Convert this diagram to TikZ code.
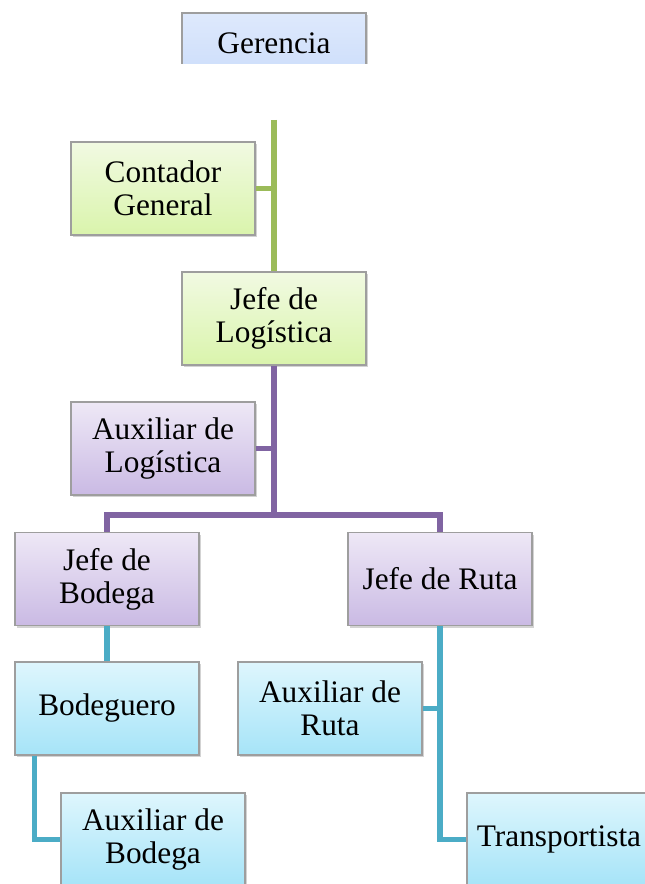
\documentclass[tikz,border=0pt]{standalone}
\usepackage{fontspec}
\setmainfont{Liberation Serif}
\usetikzlibrary{shadows}

\definecolor{gerTop}{RGB}{222,233,252}
\definecolor{gerBot}{RGB}{196,216,250}
\definecolor{verTop}{RGB}{241,250,226}
\definecolor{verBot}{RGB}{218,244,172}
\definecolor{modTop}{RGB}{238,232,246}
\definecolor{modBot}{RGB}{202,186,228}
\definecolor{celTop}{RGB}{222,246,253}
\definecolor{celBot}{RGB}{166,228,248}
\definecolor{lineGreen}{RGB}{155,187,89}
\definecolor{linePurple}{RGB}{128,100,162}
\definecolor{lineCyan}{RGB}{75,172,198}

\tikzset{
  cargo/.style={draw=black!38, line width=1pt,
    minimum width=138pt, minimum height=69.75pt, align=center,
    font=\fontsize{23.5pt}{24.75pt}\selectfont,
    drop shadow={opacity=0.35, shadow xshift=1.2pt, shadow yshift=-1.8pt}},
  azul/.style={cargo, top color=gerTop, bottom color=gerBot},
  verde/.style={cargo, top color=verTop, bottom color=verBot},
  morado/.style={cargo, top color=modTop, bottom color=modBot},
  celeste/.style={cargo, top color=celTop, bottom color=celBot},
  enlace/.style={line width=3.8pt},
}

\begin{document}
\begin{tikzpicture}[x=0.75pt,y=-0.75pt]
  \useasboundingbox (0,0) rectangle (645,884);
  \clip (0,0) rectangle (645,884);

  % gerencia, cortada en el borde de la hoja
  \begin{scope}
    \clip (0,0) rectangle (645,64);
    \node[azul] (ger) at (274,59.5) {Gerencia\\General};
  \end{scope}

  \node[verde] (cont) at (163,188.5) {Contador\\General};
  \node[verde] (jlog) at (274,318.5) {Jefe de\\Logística};
  \node[morado] (alog) at (163,448.5) {Auxiliar de\\Logística};
  \node[morado] (jbod) at (107,579) {Jefe de\\Bodega};
  \node[morado] (jruta) at (440,579) {Jefe de Ruta};
  \node[celeste] (bod) at (107,708.5) {Bodeguero};
  \node[celeste] (aruta) at (330,708.5) {Auxiliar de\\Ruta};
  \node[celeste] (abod) at (153,839.5) {Auxiliar de\\Bodega};
  \node[celeste] (trans) at (559,839.5) {Transportista};

  \coordinate (arriba) at (274,120);

  \begin{scope}[enlace, lineGreen]
    \draw (arriba) -- (jlog.north);
    \draw (cont.east) -- (cont.east -| jlog.north);
  \end{scope}
  \begin{scope}[enlace, linePurple]
    \draw (jlog.south) -- (jlog.south |- 0,515) coordinate (rama);
    \draw (alog.east) -- (alog.east -| jlog.south);
    \draw (jbod.north) |- (jruta.north |- rama) -- (jruta.north);
  \end{scope}
  \begin{scope}[enlace, lineCyan]
    \draw (jbod.south) -- (bod.north);
    \draw ([xshift=15pt]bod.south west) |- (abod.west);
    \draw (jruta.south) |- (trans.west);
    \draw (aruta.east) -- (aruta.east -| jruta.south);
  \end{scope}
\end{tikzpicture}
\end{document}
